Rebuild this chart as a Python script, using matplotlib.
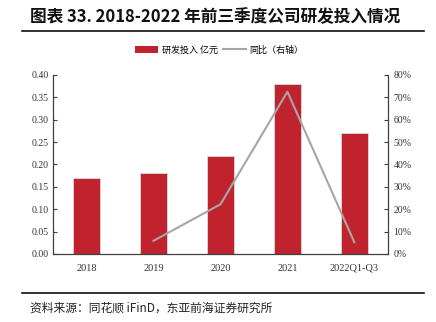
import matplotlib
matplotlib.use("Agg")
import matplotlib.pyplot as plt
from matplotlib.lines import Line2D
from matplotlib.patches import Patch

categories = ["2018", "2019", "2020", "2021", "2022Q1-Q3"]
rd_invest = [0.17, 0.18, 0.22, 0.38, 0.27]
yoy_cats = ["2019", "2020", "2021", "2022Q1-Q3"]
yoy = [5.9, 22.2, 72.5, 5.2]
left_ticks = [0.00, 0.05, 0.10, 0.15, 0.20, 0.25, 0.30, 0.35, 0.40]
right_ticks = [0, 10, 20, 30, 40, 50, 60, 70, 80]

cjk = ["Noto Sans CJK SC", "DejaVu Sans"]
serif = ["Liberation Serif", "DejaVu Serif"]

fig = plt.figure(figsize=(4.36, 3.22), dpi=100)
ax = fig.add_axes([0.1216, 0.2112, 0.768, 0.556])
x = list(range(len(categories)))
ax.bar(x, rd_invest, width=0.4, color="#C0232E", edgecolor="#D9D9D9", linewidth=0.6, zorder=2)
ax.set_ylim(0, 0.40)
ax.set_yticks(left_ticks)
ax.set_yticklabels([f"{v:.2f}" for v in left_ticks], family=serif, fontsize=7, color="#333333")
ax.set_xlim(-0.5, len(categories) - 0.5)
ax.set_xticks(x)
ax.set_xticklabels(categories, family=serif, fontsize=7.5, color="#333333")
ax.tick_params(axis="y", direction="in", length=3, width=0.8, color="#404040", pad=3)
ax.tick_params(axis="x", length=0, pad=7)
for s in ["top", "right"]:
    ax.spines[s].set_visible(False)
for s in ["left", "bottom"]:
    ax.spines[s].set_color("#404040")
    ax.spines[s].set_linewidth(0.9)

ax2 = ax.twinx()
xi = [categories.index(c) for c in yoy_cats]
ax2.plot(xi, yoy, color="#A6A6A6", linewidth=1.5, zorder=3)
ax2.set_ylim(0, 80)
ax2.set_yticks(right_ticks)
ax2.set_yticklabels([f"{v}%" for v in right_ticks], family=serif, fontsize=7, color="#333333")
ax2.tick_params(axis="y", direction="in", length=3, width=0.8, color="#404040", pad=4)
for s in ["top", "left", "bottom"]:
    ax2.spines[s].set_visible(False)
ax2.spines["right"].set_color("#404040")
ax2.spines["right"].set_linewidth(0.9)

handles = [Patch(facecolor="#C0232E", edgecolor="none"),
           Line2D([0], [0], color="#A6A6A6", linewidth=1.5)]
fig.legend(handles, ["研发投入 亿元", "同比（右轴）"], loc="center", bbox_to_anchor=(0.503, 1 - 50 / 322),
           ncol=2, frameon=False, prop={"family": cjk, "size": 6.5}, handlelength=2.6, handleheight=0.8,
           columnspacing=0.5, handletextpad=0.4)

fig.text(30 / 436, 1 - 17 / 322, "图表 33. 2018-2022 年前三季度公司研发投入情况", family=["Noto Sans CJK SC"],
         fontsize=12, fontweight="bold", va="center", ha="left", color="#111111")
fig.add_artist(Line2D([22 / 436, 424 / 436], [1 - 31 / 322] * 2, color="#111111", linewidth=1.2))
fig.add_artist(Line2D([22 / 436, 424 / 436], [1 - 293 / 322] * 2, color="#111111", linewidth=1.2))
fig.text(30 / 436, 1 - 308 / 322, "资料来源：同花顺 iFinD，东亚前海证券研究所", family=cjk,
         fontsize=8.5, va="center", ha="left", color="#222222")

fig.savefig("out.png", dpi=100)
